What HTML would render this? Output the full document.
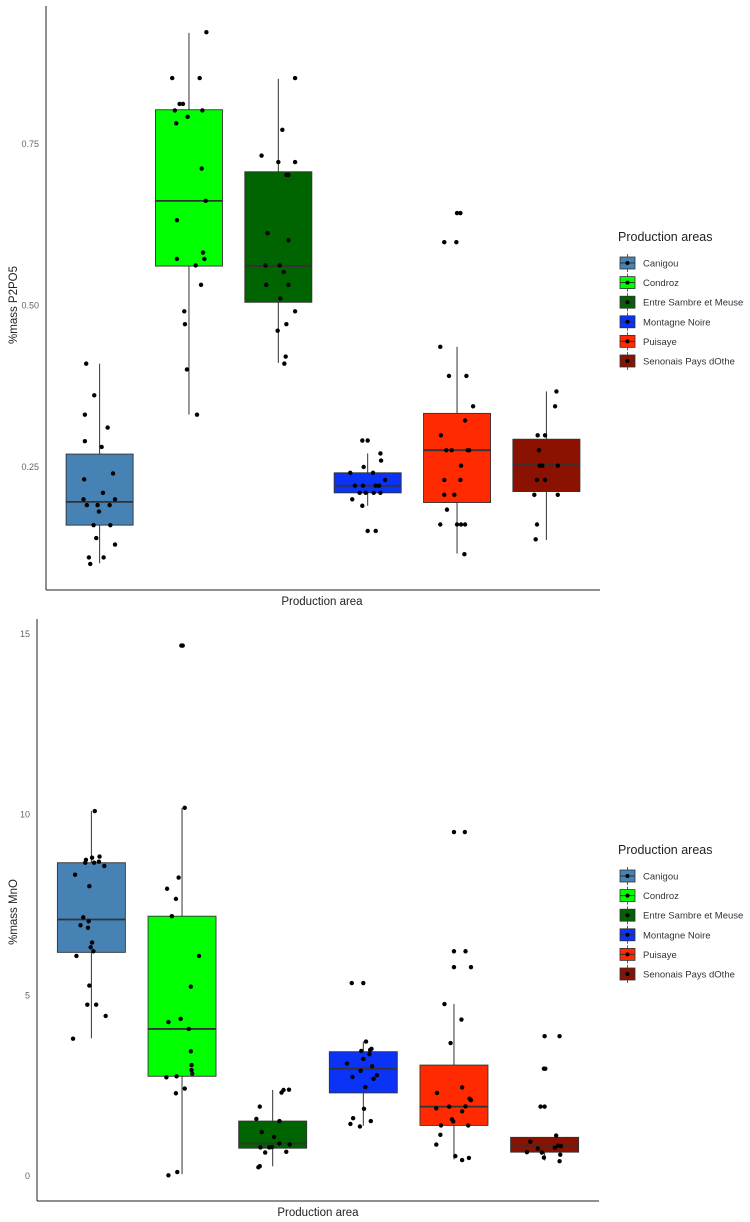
<!DOCTYPE html>
<html><head><meta charset="utf-8">
<style>
html,body{margin:0;padding:0;background:#fff;}
svg{display:block;font-family:"Liberation Sans",sans-serif;}
</style></head>
<body>
<svg id="chart" width="750" height="1222" viewBox="0 0 750 1222" xmlns="http://www.w3.org/2000/svg"></svg>
<script>
const categories = ["Canigou","Condroz","Entre Sambre et Meuse","Montagne Noire","Puisaye","Senonais Pays dOthe"];
const colors = ["#4682b4","#00ff00","#006400","#0b33f5","#ff2a00","#8b1200"];

// P2O5 box stats
const p2o5Q1 = [0.160,0.561,0.505,0.210,0.195,0.212];
const p2o5Med = [0.196,0.662,0.561,0.221,0.276,0.253];
const p2o5Q3 = [0.270,0.803,0.707,0.241,0.333,0.293];
const p2o5Lo = [0.101,0.331,0.411,0.190,0.116,0.137];
const p2o5Hi = [0.410,0.922,0.851,0.271,0.436,0.367];
const p2o5Ticks = [0.25,0.50,0.75];
const p2o5TickLabels = ["0.25","0.50","0.75"];
// P2O5 points (values) and jitter (fraction of box width)
const p2o5Pts = [
 [0.410,0.361,0.331,0.311,0.290,0.281,0.240,0.231,0.210,0.200,0.200,0.191,0.191,0.191,0.181,0.160,0.160,0.140,0.130,0.110,0.110,0.100],
 [0.923,0.852,0.852,0.812,0.812,0.802,0.802,0.792,0.782,0.712,0.662,0.632,0.582,0.572,0.572,0.562,0.532,0.491,0.471,0.401,0.331],
 [0.852,0.772,0.732,0.722,0.722,0.702,0.702,0.612,0.601,0.562,0.562,0.552,0.532,0.532,0.511,0.491,0.461,0.471,0.421,0.410],
 [0.291,0.291,0.271,0.260,0.250,0.241,0.241,0.230,0.221,0.221,0.221,0.221,0.210,0.210,0.210,0.210,0.200,0.190,0.151,0.151],
 [0.643,0.643,0.598,0.598,0.436,0.391,0.391,0.344,0.322,0.299,0.276,0.276,0.276,0.276,0.252,0.230,0.230,0.207,0.207,0.184,0.161,0.161,0.161,0.161,0.115],
 [0.367,0.344,0.299,0.299,0.276,0.252,0.252,0.252,0.230,0.230,0.207,0.207,0.161,0.138]
];
const p2o5Jit = [
 [-0.20,-0.08,-0.22,0.12,-0.22,0.03,0.20,-0.23,0.05,-0.24,0.23,-0.19,-0.03,0.15,-0.01,-0.09,0.16,-0.05,0.23,-0.16,0.06,-0.14],
 [0.26,-0.25,0.16,-0.14,-0.09,-0.21,0.20,-0.02,-0.19,0.19,0.25,-0.18,0.21,-0.18,0.23,0.10,0.18,-0.07,-0.06,-0.03,0.12],
 [0.25,0.06,-0.25,0.00,0.25,0.12,0.15,-0.16,0.15,-0.19,0.02,0.08,-0.18,0.15,0.03,0.25,-0.01,0.12,0.11,0.09],
 [-0.08,0.00,0.19,0.20,-0.06,-0.26,0.08,0.26,-0.19,-0.07,0.12,0.17,-0.12,-0.03,0.09,0.19,-0.23,-0.08,0.00,0.12],
 [0.00,0.05,-0.19,-0.01,-0.25,-0.12,0.14,0.24,0.12,-0.24,-0.16,-0.08,0.16,0.18,0.06,-0.19,0.05,-0.19,-0.04,-0.15,-0.25,0.00,0.06,0.12,0.11],
 [0.15,0.13,-0.13,-0.02,-0.11,-0.10,-0.06,0.17,-0.14,-0.02,-0.18,0.17,-0.14,-0.16]
];

// MnO box stats
const mnoQ1 = [6.19,2.76,0.77,2.30,1.40,0.66];
const mnoMed = [7.10,4.07,0.90,2.97,1.92,0.84];
const mnoQ3 = [8.67,7.19,1.52,3.44,3.07,1.07];
const mnoLo = [3.81,0.05,0.27,1.39,0.46,0.43];
const mnoHi = [10.10,10.19,2.38,3.72,4.76,1.07];
const mnoTicks = [0,5,10,15];
const mnoTickLabels = ["0","5","10","15"];
const mnoPts = [
 [10.10,8.75,8.81,8.84,8.67,8.67,8.70,8.58,8.34,8.02,7.16,7.05,6.94,6.87,6.46,6.33,6.22,6.09,5.27,4.74,4.74,4.43,3.80],
 [14.68,14.68,10.19,8.26,7.95,7.67,7.19,6.09,5.24,4.35,4.26,4.07,3.45,3.07,2.93,2.83,2.73,2.76,2.29,2.42,0.02,0.11],
 [2.39,2.38,2.31,1.92,1.58,1.52,1.22,1.08,0.79,0.79,0.80,0.90,0.87,0.65,0.67,0.24,0.27],
 [5.34,5.34,3.72,3.46,3.49,3.52,3.37,3.11,3.24,3.04,2.91,2.79,2.69,2.74,2.46,1.86,1.60,1.52,1.44,1.37],
 [9.52,9.52,6.22,6.22,5.78,5.78,4.76,4.33,3.68,2.45,2.30,2.14,2.10,1.92,1.87,1.93,1.79,1.57,1.51,1.40,1.40,1.14,0.87,0.55,0.44,0.50],
 [3.87,3.87,2.97,2.97,1.92,1.92,1.12,0.95,0.66,0.76,0.65,0.78,0.84,0.83,0.59,0.51,0.41]
];
const mnoJit = [
 [0.05,-0.08,0.01,0.12,-0.09,0.04,0.11,0.19,-0.24,-0.03,-0.12,-0.04,-0.16,-0.05,0.01,-0.01,0.03,-0.22,-0.03,-0.06,0.07,0.21,-0.27],
 [-0.01,0.01,0.04,-0.05,-0.22,-0.09,-0.15,0.25,0.13,-0.02,-0.20,0.10,0.13,0.14,0.14,0.15,-0.23,-0.08,-0.09,0.04,-0.20,-0.07],
 [0.24,0.16,0.13,-0.19,-0.24,0.10,-0.16,0.02,-0.18,-0.05,-0.01,0.10,0.25,-0.11,0.20,-0.21,-0.19],
 [-0.17,0.00,0.04,-0.03,0.10,0.12,0.09,-0.24,0.00,0.13,-0.04,0.20,0.15,-0.16,0.03,0.01,-0.15,0.11,-0.19,-0.05],
 [0.00,0.16,0.00,0.17,0.00,0.25,-0.14,0.11,-0.05,0.12,-0.25,0.23,0.25,-0.07,-0.26,0.17,0.12,-0.03,-0.01,-0.19,0.21,-0.20,-0.26,0.02,0.12,0.22],
 [0.00,0.22,-0.01,0.01,-0.06,0.00,0.17,-0.21,-0.26,-0.10,-0.04,0.15,0.20,0.24,0.23,-0.01,0.22]
];

const NS = "http://www.w3.org/2000/svg";
const svg = document.getElementById("chart");
function mk(tag, attrs, parent){
  const e = document.createElementNS(NS, tag);
  for (const k in attrs) e.setAttribute(k, attrs[k]);
  (parent||svg).appendChild(e);
  return e;
}

function drawChart(cfg){
  const g = mk("g", {});
  
  
  const n = categories.length;
  const step = (cfg.right - cfg.left) / (n - 1 + 1.2);
  const xC = i => cfg.left + (0.6 + i) * step;
  const bw = 0.75 * step;
  const y = v => cfg.bottom - (v - cfg.vmin) / (cfg.vmax - cfg.vmin) * (cfg.bottom - cfg.top);

  // axes
  const ya = mk("line", {x1:cfg.left, y1:cfg.top, x2:cfg.left, y2:cfg.bottom, stroke:"#222", "stroke-width":1}, g);
  
  
  const xa = mk("line", {x1:cfg.left, y1:cfg.bottom, x2:cfg.right, y2:cfg.bottom, stroke:"#222", "stroke-width":1}, g);
  
  

  cfg.ticks.forEach((t, i) => {
    const tl = mk("text", {x:cfg.left - 7, y:y(t) + 3, "text-anchor":"end", "font-size":9, fill:"#666"}, g);
    tl.textContent = cfg.tickLabels[i];
    
    
  });

  const yt = mk("text", {x:0, y:0, transform:`translate(17,${cfg.ytitleY}) rotate(-90)`, "text-anchor":"middle", "font-size":11.5, fill:"#222"}, g);
  yt.textContent = cfg.ytitle;
  
  
  const xt = mk("text", {x:cfg.xtitleX, y:cfg.bottom + 15, "text-anchor":"middle", "font-size":11.5, fill:"#222"}, g);
  xt.textContent = "Production area";
  
  

  categories.forEach((c, i) => {
    const cx = xC(i);
    const w1 = mk("line", {x1:cx, x2:cx, y1:y(cfg.hi[i]), y2:y(cfg.q3[i]), stroke:"#333", "stroke-width":1}, g);
    
    
    const w2 = mk("line", {x1:cx, x2:cx, y1:y(cfg.q1[i]), y2:y(cfg.lo[i]), stroke:"#333", "stroke-width":1}, g);
    
    
    const b = mk("rect", {x:cx - bw/2, y:y(cfg.q3[i]), width:bw, height:Math.max(1, y(cfg.q1[i]) - y(cfg.q3[i])), fill:colors[i], stroke:"#333", "stroke-width":0.9}, g);
    
    
    const m = mk("line", {x1:cx - bw/2, x2:cx + bw/2, y1:y(cfg.med[i]), y2:y(cfg.med[i]), stroke:"#333", "stroke-width":1.8}, g);
    
    
  });
  categories.forEach((c, i) => {
    const cx = xC(i);
    cfg.pts[i].forEach((v, j) => {
      const p = mk("circle", {cx:cx + cfg.jit[i][j] * bw, cy:y(v), r:2.2, fill:"#000"}, g);
      
      
    });
  });

  // legend
  const lg = mk("g", {}, g);
  
  
  const lt = mk("text", {x:618, y:cfg.legendY, "font-size":12.5, fill:"#222"}, lg);
  lt.textContent = "Production areas";
  
  
  categories.forEach((c, i) => {
    const ey = cfg.legendY + 22 + i * 19.6;
    const kg = mk("g", {}, lg);
    
    
    mk("line", {x1:627.5, x2:627.5, y1:ey - 9, y2:ey + 9, stroke:"#333", "stroke-width":0.8}, kg);
    mk("rect", {x:620, y:ey - 6, width:15, height:12, fill:colors[i], stroke:"#333", "stroke-width":0.8}, kg);
    mk("line", {x1:620, x2:635, y1:ey, y2:ey, stroke:"#333", "stroke-width":1}, kg);
    mk("circle", {cx:627.5, cy:ey, r:2, fill:"#000"}, kg);
    const tx = mk("text", {x:643, y:ey + 3.5, "font-size":9.5, fill:"#333"}, kg);
    tx.textContent = c;
  });
}

drawChart({name:"p2o5-chart", left:46, right:600, top:6, bottom:590, vmin:0.0596, vmax:0.9636,
  ticks:p2o5Ticks, tickLabels:p2o5TickLabels, q1:p2o5Q1, med:p2o5Med, q3:p2o5Q3, lo:p2o5Lo, hi:p2o5Hi,
  pts:p2o5Pts, jit:p2o5Jit, ytitle:"%mass P2PO5", ytitleY:305, xtitleX:322, legendY:241});
drawChart({name:"mno-chart", left:37, right:599, top:619, bottom:1201, vmin:-0.692, vmax:15.416,
  ticks:mnoTicks, tickLabels:mnoTickLabels, q1:mnoQ1, med:mnoMed, q3:mnoQ3, lo:mnoLo, hi:mnoHi,
  pts:mnoPts, jit:mnoJit, ytitle:"%mass MnO", ytitleY:912, xtitleX:318, legendY:854});
</script>
</body></html>
